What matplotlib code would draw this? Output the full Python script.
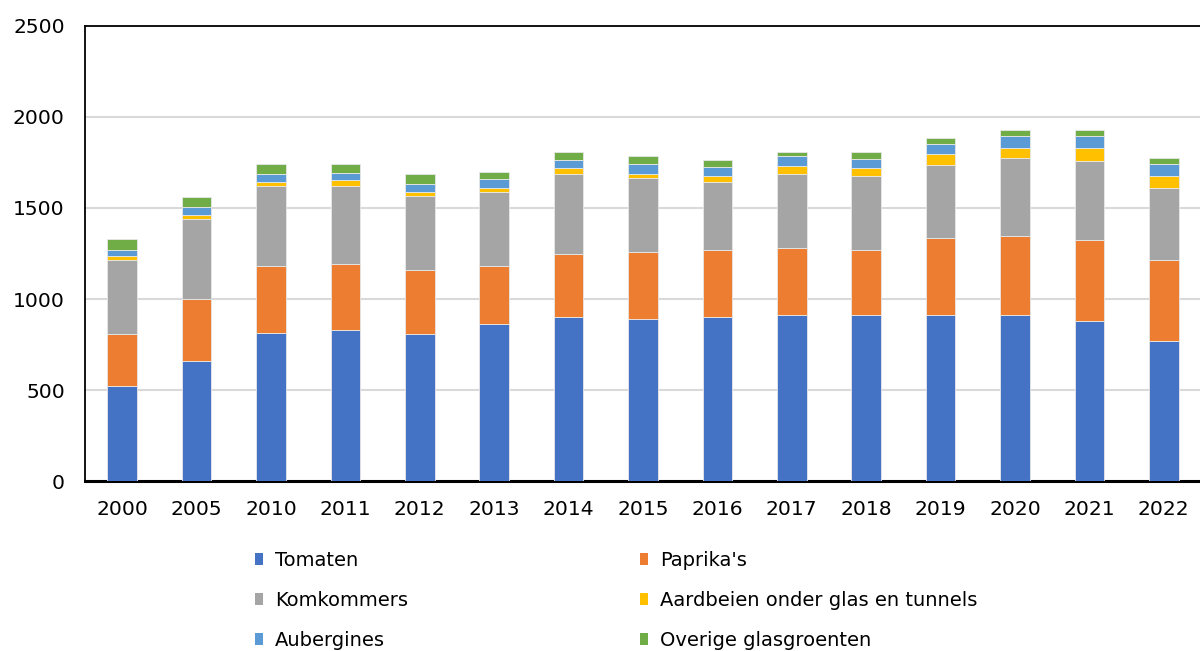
import matplotlib
matplotlib.use("Agg")
import matplotlib.pyplot as plt
from matplotlib.patches import Patch
import numpy as np

# data
jaren = ["2000", "2005", "2010", "2011", "2012", "2013", "2014", "2015",
         "2016", "2017", "2018", "2019", "2020", "2021", "2022"]
tomaten = [520, 660, 815, 827, 805, 860, 902, 891, 902, 913, 913, 913, 913, 880, 770]
paprikas = [285, 340, 366, 365, 354, 321, 343, 365, 365, 365, 356, 420, 431, 442, 444]
komkommers = [407, 440, 438, 427, 405, 405, 440, 407, 374, 407, 405, 405, 429, 438, 394]
aardbeien = [22, 22, 22, 33, 22, 22, 33, 22, 33, 44, 44, 56, 56, 67, 66]
aubergines = [35, 44, 44, 42, 44, 53, 43, 54, 53, 54, 53, 55, 66, 66, 66]
overige = [62, 56, 55, 46, 55, 35, 46, 46, 36, 24, 36, 33, 33, 33, 33]

namen = ["Tomaten", "Paprika's", "Komkommers", "Aardbeien onder glas en tunnels",
         "Aubergines", "Overige glasgroenten"]
kleuren = ["#4472C4", "#ED7D31", "#A5A5A5", "#FFC000", "#5B9BD5", "#70AD47"]
reeksen = [tomaten, paprikas, komkommers, aardbeien, aubergines, overige]

plt.rcParams["font.family"] = "DejaVu Sans"

fig = plt.figure(figsize=(12, 6.51), dpi=100)
ax = fig.add_axes([85 / 1200, 0.2611, 1116 / 1200, 0.699])

x = np.arange(len(jaren))
bottom = np.zeros(len(jaren))
for vals, kleur in zip(reeksen, kleuren):
    ax.bar(x, vals, width=0.4, bottom=bottom, color=kleur,
           edgecolor="#e8e8e8", linewidth=0.6, zorder=3)
    bottom += np.array(vals)

ax.set_xlim(-0.5, len(jaren) - 0.5)
ax.set_ylim(0, 2500)
ax.set_yticks(np.arange(0, 2501, 500))
ax.set_xticks(x)
ax.set_xticklabels(jaren)
ax.yaxis.grid(True, color="#d9d9d9", linewidth=1.5, zorder=0)
ax.tick_params(axis="both", length=0, labelsize=14.6, colors="black")
ax.tick_params(axis="x", pad=14)
ax.tick_params(axis="y", pad=14.5)

for s in ["left", "top"]:
    ax.spines[s].set_linewidth(1.3)
    ax.spines[s].set_color("black")
ax.spines["bottom"].set_linewidth(2.2)
ax.spines["right"].set_visible(False)

# legend, column-wise order
volgorde = [0, 2, 4, 1, 3, 5]
handles = [Patch(facecolor=kleuren[i], edgecolor="none") for i in volgorde]
labels = [namen[i] for i in volgorde]
fig.legend(handles, labels, ncol=2, loc="upper left",
           bbox_to_anchor=(255 / 1200, 1 - 551 / 651), frameon=False,
           fontsize=14, handlelength=0.42, handleheight=0.6,
           handletextpad=0.62, columnspacing=11.9, labelspacing=1.08,
           borderaxespad=0, borderpad=0)

fig.savefig("out.png", dpi=100)
